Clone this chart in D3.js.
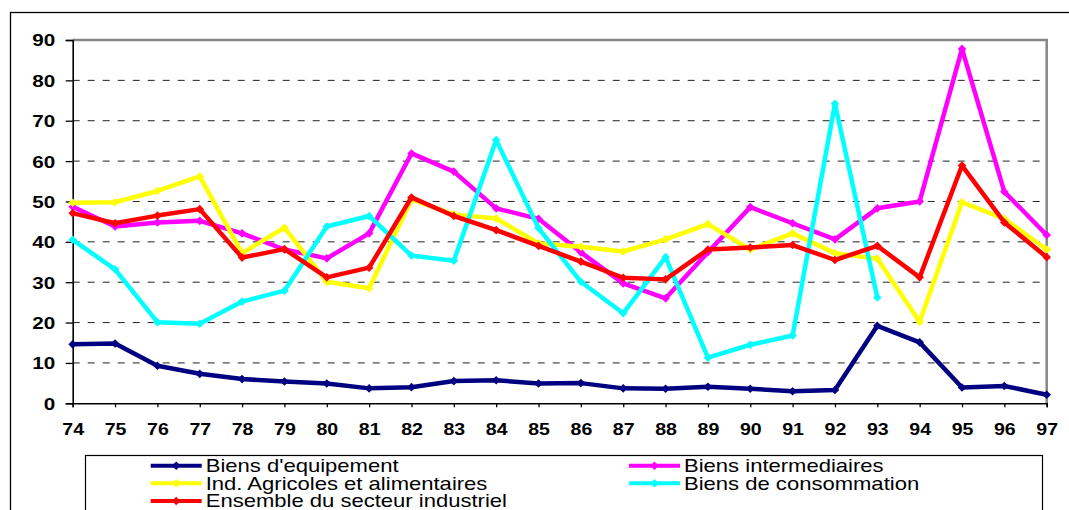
<!DOCTYPE html>
<html>
<head>
<meta charset="utf-8">
<script src="https://cdn.jsdelivr.net/npm/d3@7"></script>
<style>
  body { margin: 0; background: #fff; }
  text { font-family: Arial, "Liberation Sans", sans-serif; }
</style>
</head>
<body>
<svg id="chart" width="1069" height="510"></svg>
<script>
var years = ['74','75','76','77','78','79','80','81','82','83','84','85','86','87','88','89','90','91','92','93','94','95','96','97'];
var yTicks = [0, 10, 20, 30, 40, 50, 60, 70, 80, 90];

var equipement    = [14.6, 14.8, 9.3, 7.3, 6.0, 5.4, 4.9, 3.7, 4.0, 5.5, 5.7, 4.9, 5.0, 3.7, 3.6, 4.1, 3.6, 3.0, 3.3, 19.2, 15.1, 3.9, 4.3, 2.1];
var intermediaires = [48.7, 43.8, 44.8, 45.2, 42.1, 38.1, 35.9, 42.1, 61.9, 57.4, 48.3, 45.7, 37.4, 29.7, 26.0, 37.4, 48.6, 44.6, 40.6, 48.3, 50.0, 87.8, 52.4, 41.7];
var agricoles     = [49.7, 49.8, 52.6, 56.2, 37.2, 43.5, 30.1, 28.5, 50.5, 46.8, 45.8, 39.6, 38.8, 37.6, 40.6, 44.4, 38.1, 42.1, 37.2, 35.8, 20.2, 49.8, 45.7, 38.1];
var consommation  = [40.5, 33.2, 20.1, 19.7, 25.2, 27.9, 43.8, 46.4, 36.6, 35.3, 65.2, 43.4, 30.1, 22.3, 36.2, 11.3, 14.5, 16.8, 74.2, 26.2, null, null, null, null];
var ensemble      = [47.1, 44.6, 46.5, 48.1, 36.1, 38.2, 31.2, 33.6, 51.0, 46.4, 42.9, 39.0, 35.1, 31.1, 30.7, 38.1, 38.6, 39.2, 35.5, 39.0, 31.2, 58.9, 44.8, 36.2];

var seriesNames  = ["Biens d'equipement", 'Biens intermediaires', 'Ind. Agricoles et alimentaires', 'Biens de consommation', 'Ensemble du secteur industriel'];
var seriesValues = [equipement, intermediaires, agricoles, consommation, ensemble];
var seriesColors = ['#000080', '#ff00ff', '#ffff00', '#00ffff', '#ff0000'];

Chart = (function () {
  var left = 72.7, right = 1046.7, top = 40, bottom = 403.3;

  function draw(svg) {
    var x = d3.scalePoint().domain(years).range([left, right]),
        y = d3.scaleLinear().domain([0, 90]).range([bottom, top]);

    _drawFrames(svg);
    _drawGrid(svg, y);
    _drawAxes(svg, x, y);
    _drawSeries(svg, x, y);
    _drawLegend(svg);
  }

  function _drawFrames(svg) {
    svg.append('rect')
       .attr('x', 10.5).attr('y', 12.5)
       .attr('width', 1080).attr('height', 520)
       .attr('fill', 'none')
       .attr('stroke', '#000')
       .attr('stroke-width', 1.3);
  }

  function _drawGrid(svg, y) {
    svg.append('g')
       .selectAll('line')
       .data(yTicks.filter(function (t) { return t > 0 && t < 90; }))
       .enter().append('line')
       .attr('x1', left).attr('x2', right)
       .attr('y1', function (t) { return y(t); })
       .attr('y2', function (t) { return y(t); })
       .attr('stroke', '#222')
       .attr('stroke-width', 1)
       .attr('stroke-dasharray', '7,8');

    // grey plot border (top and right)
    svg.append('path')
       .attr('d', 'M' + left + ',' + top + 'H' + right + 'V' + bottom)
       .attr('fill', 'none')
       .attr('stroke', '#868686')
       .attr('stroke-width', 2.5);
  }

  function _drawAxes(svg, x, y) {
    var yAxis = svg.append('g')
                   .attr('transform', 'translate(' + left + ',0)')
                   .call(d3.axisLeft(y).tickValues(yTicks).tickSize(7));

    var xAxis = svg.append('g')
                   .attr('transform', 'translate(0,' + bottom + ')')
                   .call(d3.axisBottom(x).tickSize(4));

    [yAxis, xAxis].forEach(function (axis) {
      axis.select('.domain').attr('stroke', '#000').attr('stroke-width', 1.6);
      axis.selectAll('.tick line').attr('stroke', '#000').attr('stroke-width', 1.3);
      axis.selectAll('text')
          .attr('fill', '#000')
          .style('font-weight', 'bold')
          .style('font-family', 'Arial, "Liberation Sans", sans-serif');
    });

    yAxis.selectAll('text')
         .attr('x', 0).attr('dy', '0.36em')
         .style('font-size', '16.5px')
         .attr('transform', 'translate(-17.5,0) scale(1.25,1)');

    xAxis.selectAll('text')
         .attr('y', 0).attr('dy', 0)
         .style('font-size', '17px')
         .attr('transform', 'translate(0,31.7) scale(1.15,1)');
  }

  function _diamond() {
    return 'M0,-4.3L4.3,0L0,4.3L-4.3,0Z';
  }

  function _drawSeries(svg, x, y) {
    var line = d3.line()
                 .defined(function (d) { return d.v !== null; })
                 .x(function (d) { return x(d.year); })
                 .y(function (d) { return y(d.v); });

    seriesValues.forEach(function (values, i) {
      var points = values.map(function (v, j) { return { year: years[j], v: v }; }),
          g = svg.append('g').attr('class', 'series');

      g.append('path')
       .attr('d', line(points))
       .attr('fill', 'none')
       .attr('stroke', seriesColors[i])
       .attr('stroke-width', 4.5)
       .attr('stroke-linejoin', 'round');

      g.selectAll('path.marker')
       .data(points.filter(function (p) { return p.v !== null; }))
       .enter().append('path')
       .attr('class', 'marker')
       .attr('d', _diamond())
       .attr('fill', seriesColors[i])
       .attr('transform', function (p) {
         return 'translate(' + x(p.year) + ',' + y(p.v) + ')';
       });
    });
  }

  function _drawLegend(svg) {
    svg.append('rect')
       .attr('x', 85.5).attr('y', 455.5)
       .attr('width', 957).attr('height', 100)
       .attr('fill', '#fff')
       .attr('stroke', '#000')
       .attr('stroke-width', 1.2);

    var colX = [150.7, 629],
        rowY = [465.7, 483.3, 501];

    var item = svg.append('g')
                  .selectAll('g')
                  .data(seriesNames)
                  .enter().append('g')
                  .attr('transform', function (d, i) {
                    return 'translate(' + colX[i % 2] + ',' + rowY[Math.floor(i / 2)] + ')';
                  });

    item.append('line')
        .attr('x1', 0).attr('x2', 51)
        .attr('stroke', function (d, i) { return seriesColors[i]; })
        .attr('stroke-width', 4);

    item.append('path')
        .attr('d', _diamond())
        .attr('transform', 'translate(25.5,0)')
        .attr('fill', function (d, i) { return seriesColors[i]; });

    item.append('text')
        .text(function (d) { return d; })
        .attr('dy', '0.36em')
        .attr('transform', 'translate(55,0) scale(1.26,1)')
        .style('font-size', '17.5px')
        .attr('fill', '#000');
  }

  return { draw: draw };
})();

Chart.draw(d3.select('#chart'));
</script>
</body>
</html>
